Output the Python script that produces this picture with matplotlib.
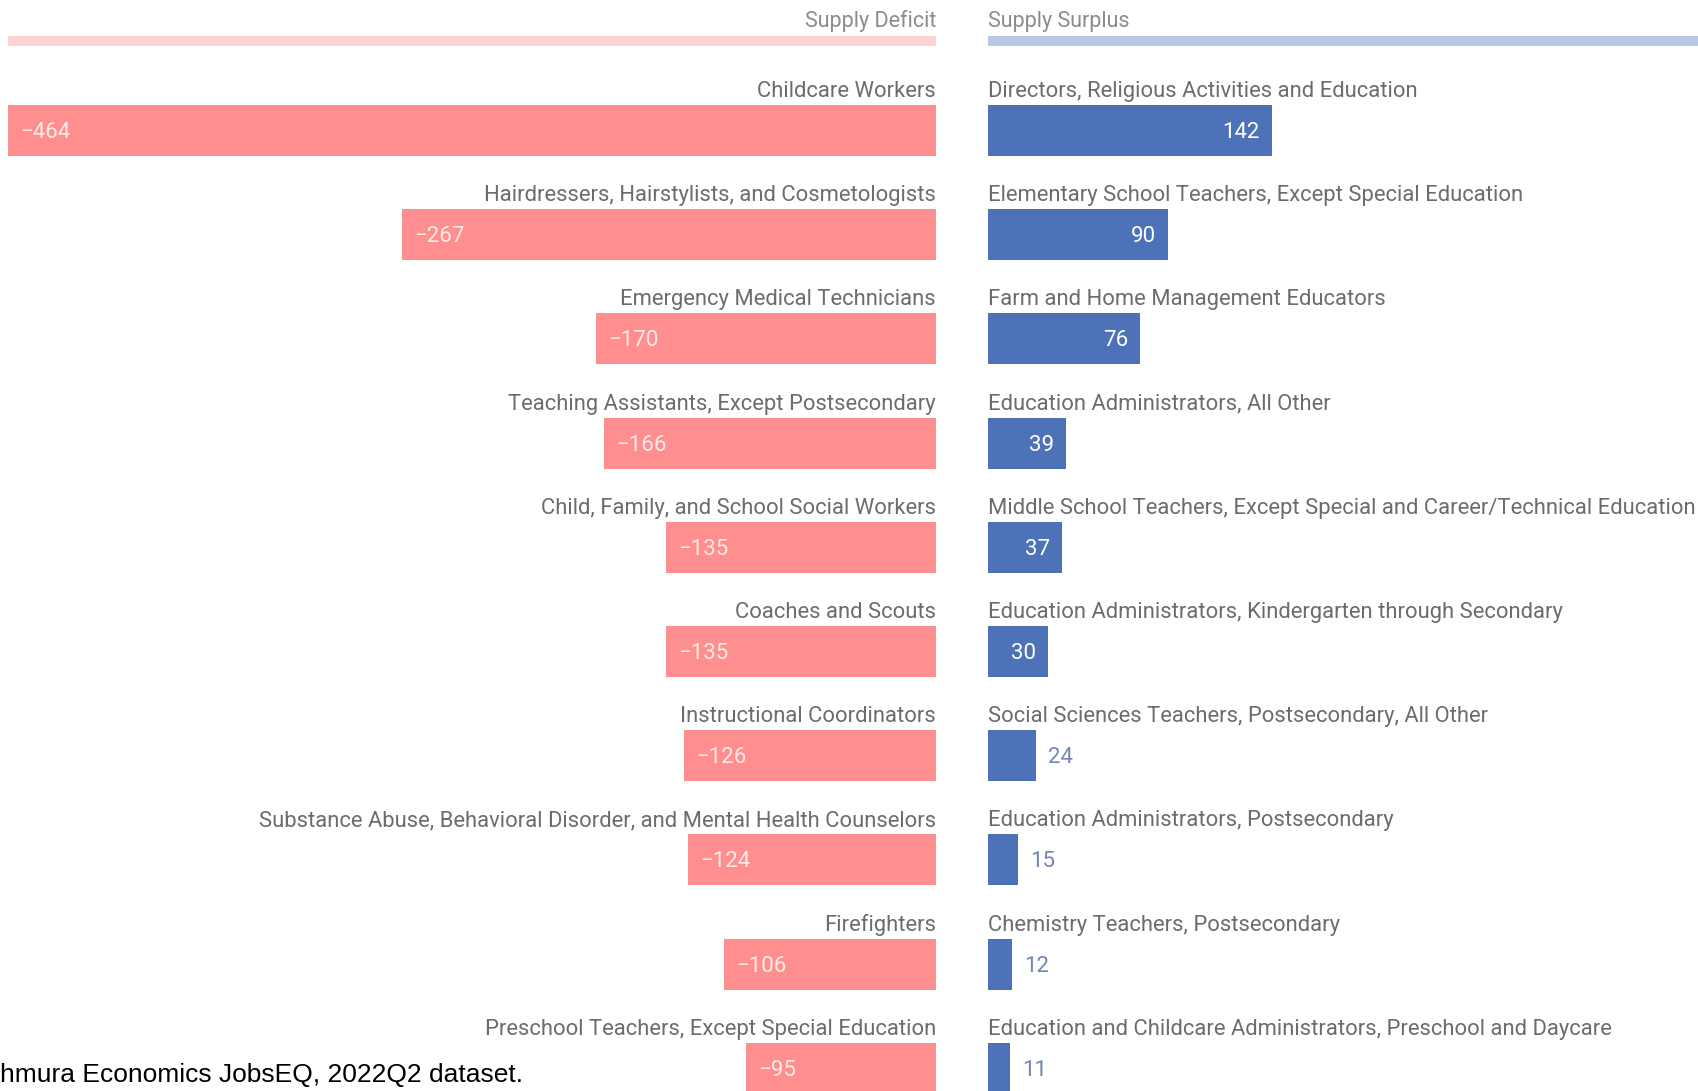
import matplotlib
matplotlib.use("Agg")
import matplotlib.pyplot as plt

deficit_labels = [
    "Childcare Workers",
    "Hairdressers, Hairstylists, and Cosmetologists",
    "Emergency Medical Technicians",
    "Teaching Assistants, Except Postsecondary",
    "Child, Family, and School Social Workers",
    "Coaches and Scouts",
    "Instructional Coordinators",
    "Substance Abuse, Behavioral Disorder, and Mental Health Counselors",
    "Firefighters",
    "Preschool Teachers, Except Special Education",
]
deficit_values = [-464, -267, -170, -166, -135, -135, -126, -124, -106, -95]

surplus_labels = [
    "Directors, Religious Activities and Education",
    "Elementary School Teachers, Except Special Education",
    "Farm and Home Management Educators",
    "Education Administrators, All Other",
    "Middle School Teachers, Except Special and Career/Technical Education",
    "Education Administrators, Kindergarten through Secondary",
    "Social Sciences Teachers, Postsecondary, All Other",
    "Education Administrators, Postsecondary",
    "Chemistry Teachers, Postsecondary",
    "Education and Childcare Administrators, Preschool and Daycare",
]
surplus_values = [142, 90, 76, 39, 37, 30, 24, 15, 12, 11]

header_left = "Supply Deficit"
header_right = "Supply Surplus"
footer = "hmura Economics JobsEQ, 2022Q2 dataset."

RED = "#ff8e8e"
BLUE = "#4d72b7"
RED_LIGHT = "#fdd3d6"
BLUE_LIGHT = "#b7c8e5"
GRAY = "#6c6c6c"
FONT = ["Roboto", "DejaVu Sans"]

W, H = 1698, 1091
fig = plt.figure(figsize=(W / 100, H / 100), dpi=100)
fig.patch.set_facecolor("white")

row0 = 130.5
step = 104.2
ytop = -row0 / step
ybot = (H - row0) / step

axL = fig.add_axes([0, 0, 936 / W, 1])
axR = fig.add_axes([988 / W, 0, 1 - 988 / W, 1])
axL.set_xlim(-468, 0)
axR.set_xlim(0, (W - 988) / 2.0)
for ax in (axL, axR):
    ax.set_ylim(ybot, ytop)
    ax.axis("off")

bar_h = 51 / step
lab_dy = 39 / step
hdr_y = (41 - row0) / step
hdr_h = 10 / step
hdr_txt_y = (21 - row0) / step
val_dy = 2 / step

rows = list(range(len(deficit_values)))

# headers
axL.barh([hdr_y], [-464], height=hdr_h, color=RED_LIGHT, align="center")
axR.barh([hdr_y], [axR.get_xlim()[1]], height=hdr_h, color=BLUE_LIGHT, align="center")
axL.text(0, hdr_txt_y, header_left, ha="right", va="center", fontsize=15.5,
         color="#8c8c8c", family=FONT)
axR.text(0, hdr_txt_y, header_right, ha="left", va="center", fontsize=15.5,
         color="#8c8c8c", family=FONT)

axL.barh(rows, deficit_values, height=bar_h, color=RED, align="center")
axR.barh(rows, surplus_values, height=bar_h, color=BLUE, align="center")

for i, (lab, v) in enumerate(zip(deficit_labels, deficit_values)):
    axL.text(0, i - lab_dy, lab, ha="right", va="center", fontsize=15.8,
             color=GRAY, family=FONT)
    axL.text(v + 6, i + val_dy, "\u2212" + str(abs(v)), ha="left", va="center",
             fontsize=16, color="#ffeaea", family=FONT)

for i, (lab, v) in enumerate(zip(surplus_labels, surplus_values)):
    axR.text(0, i - lab_dy, lab, ha="left", va="center", fontsize=15.8,
             color=GRAY, family=FONT)
    if v >= 30:
        axR.text(v - 6, i + val_dy, str(v), ha="right", va="center", fontsize=16,
                 color="white", family=FONT)
    else:
        axR.text(v + 6, i + val_dy, str(v), ha="left", va="center", fontsize=16,
                 color="#7586b3", family=FONT)

fig.text(0, 1 - 1075 / H, footer, ha="left", va="center", fontsize=19,
         color="black", family=["Liberation Sans", "DejaVu Sans"])

fig.savefig("out.png", dpi=100, facecolor="white")
